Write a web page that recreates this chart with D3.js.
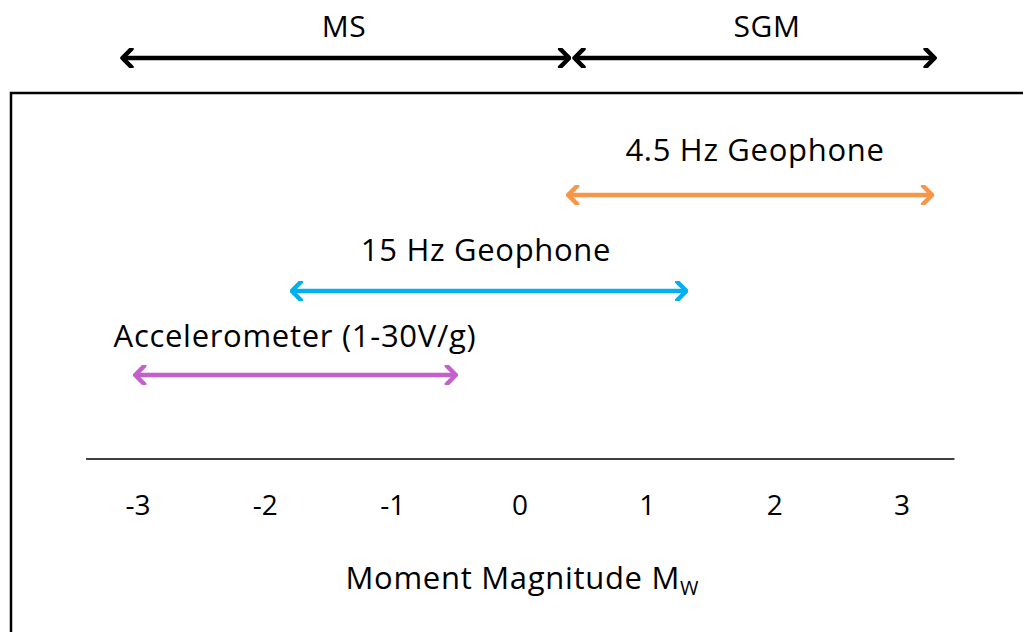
<!DOCTYPE html>
<html>
<head>
<meta charset="utf-8">
<script src="https://cdnjs.cloudflare.com/ajax/libs/d3/7.8.5/d3.min.js"></script>
<style>
  body { margin: 0; background: #fff; }
  text { font-family: "Open Sans", Lato, sans-serif; fill: #000; }
</style>
</head>
<body>
<div id="chart"></div>
<script>
// magnitude ranges (Mw) covered by each instrument
var instruments = ["4.5 Hz Geophone", "15 Hz Geophone", "Accelerometer (1-30V/g)"];
var instStart = [0.37, -1.80, -3.03];
var instEnd = [3.26, 1.33, -0.48];
var instColors = ["#f79646", "#00b0f0", "#c55fcc"];

// monitoring type ranges above the box
var zones = ["MS", "SGM"];
var zoneStart = [-3.13, 0.42];
var zoneEnd = [0.41, 3.28];

var tickValues = [-3, -2, -1, 0, 1, 2, 3];
var axisExtent = [-3.4, 3.42];

var width = 1023, height = 632;

var svg = d3.select("#chart").append("svg")
    .attr("width", width)
    .attr("height", height);

var x = d3.scaleLinear()
    .domain([-3, 3])
    .range([137, 901]);

// row layout
var zoneY = 58;
var zoneLabelX = [344, 767];
var rowY = [195, 291, 375];
var labelY = [161, 261, 347];
var labelX = [755, 486, 295];

// arrowheads
function head(color, id) {
    var m = svg.append("defs").append("marker")
        .attr("id", id)
        .attr("viewBox", "-12 -10 14 20")
        .attr("refX", 0)
        .attr("refY", 0)
        .attr("markerUnits", "userSpaceOnUse")
        .attr("markerWidth", 14)
        .attr("markerHeight", 20)
        .attr("orient", "auto-start-reverse");
    m.append("path")
        .attr("d", "M-9,-9 L0,0 L-9,9")
        .attr("fill", "none")
        .attr("stroke", color)
        .attr("stroke-width", 4.5)
        .attr("stroke-linecap", "round")
        .attr("stroke-linejoin", "round");
}
head("#000", "h-black");
instColors.forEach(function(c, i) { head(c, "h" + i); });

// frame
svg.append("path")
    .attr("d", "M11,640 L11,93 L1030,93")
    .attr("fill", "none")
    .attr("stroke", "#000")
    .attr("stroke-width", 2.5);

// top zones
zones.forEach(function(z, i) {
    svg.append("line")
        .attr("x1", x(zoneStart[i]) + 2)
        .attr("x2", x(zoneEnd[i]) - 2)
        .attr("y1", zoneY).attr("y2", zoneY)
        .attr("stroke", "#000")
        .attr("stroke-width", 4.5)
        .attr("marker-start", "url(#h-black)")
        .attr("marker-end", "url(#h-black)");
    svg.append("text")
        .attr("x", zoneLabelX[i])
        .attr("y", 37)
        .attr("text-anchor", "middle")
        .attr("font-size", 30)
        .attr("letter-spacing", 0.6)
        .text(z);
});

// instrument ranges
instruments.forEach(function(name, i) {
    svg.append("line")
        .attr("x1", x(instStart[i]) + 2)
        .attr("x2", x(instEnd[i]) - 2)
        .attr("y1", rowY[i]).attr("y2", rowY[i])
        .attr("stroke", instColors[i])
        .attr("stroke-width", 4.5)
        .attr("marker-start", "url(#h" + i + ")")
        .attr("marker-end", "url(#h" + i + ")");
    svg.append("text")
        .attr("x", labelX[i])
        .attr("y", labelY[i])
        .attr("text-anchor", "middle")
        .attr("font-size", 31)
        .attr("letter-spacing", 0.7)
        .text(name);
});

// magnitude axis
svg.append("line")
    .attr("x1", x(axisExtent[0])).attr("x2", x(axisExtent[1]))
    .attr("y1", 459).attr("y2", 459)
    .attr("stroke", "#404040")
    .attr("stroke-width", 2);

svg.selectAll(".tick")
    .data(tickValues)
    .enter().append("text")
    .attr("class", "tick")
    .attr("x", function(d) { return x(d) + 1; })
    .attr("y", 515)
    .attr("text-anchor", "middle")
    .attr("font-size", 28)
    .text(function(d) { return d; });

var title = svg.append("text")
    .attr("x", x(0) + 3)
    .attr("y", 589)
    .attr("text-anchor", "middle")
    .attr("font-size", 31)
    .attr("letter-spacing", 0.7)
    .text("Moment Magnitude M");
title.append("tspan")
    .attr("font-size", 20)
    .attr("dy", 6)
    .attr("letter-spacing", 0)
    .text("W");
</script>
</body>
</html>
